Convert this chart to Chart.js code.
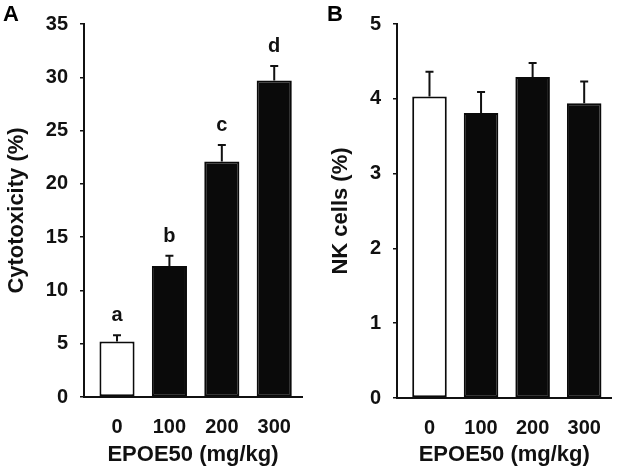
<!DOCTYPE html>
<html><head><meta charset="utf-8">
<script src="https://cdn.jsdelivr.net/npm/chart.js@4/dist/chart.umd.min.js"></script>
<style>
html,body{margin:0;padding:0;background:#fff;}
#wrap{position:relative;width:619px;height:470px;overflow:hidden;}
canvas{position:absolute;top:0;}
</style></head><body>
<div id="wrap">
<canvas id="cA" width="310" height="470" style="left:0"></canvas>
<canvas id="cB" width="309" height="470" style="left:310px"></canvas>
</div>
<script>
// ---- data ----
const doses = ['0', '100', '200', '300'];
const cytotoxicity = [5.2, 12.3, 22.1, 29.7];
const cytotoxicityErr = [0.6, 0.95, 1.55, 1.35];
const sigLetters = ['a', 'b', 'c', 'd'];
const nkCells = [4.03, 3.81, 4.29, 3.94];
const nkCellsErr = [0.33, 0.28, 0.19, 0.29];
const yTicksA = [0, 5, 10, 15, 20, 25, 30, 35];
const yTicksB = [0, 1, 2, 3, 4, 5];
const xTitle = 'EPOE50 (mg/kg)';
const yTitleA = 'Cytotoxicity (%)';
const yTitleB = 'NK cells (%)';

// ---- styles ----
const FONT = "'Liberation Sans', Arial, sans-serif";
const INK = '#111111';
const BAR_COLORS = ['#ffffff', '#0a0a0a', '#0a0a0a', '#0a0a0a'];

function makeChart(canvas, cfg) {
  const annot = {
    id: 'annot',
    afterDatasetsDraw(chart) {
      const ctx = chart.ctx;
      const y = chart.scales.y;
      const meta = chart.getDatasetMeta(0);
      ctx.save();
      ctx.strokeStyle = INK;
      ctx.lineWidth = 2;
      meta.data.forEach((el, i) => {
        const yTop = el.y;
        const yErr = y.getPixelForValue(cfg.values[i] + cfg.errs[i]);
        ctx.beginPath();
        ctx.moveTo(el.x, yTop);
        ctx.lineTo(el.x, yErr);
        ctx.moveTo(el.x - 4, yErr);
        ctx.lineTo(el.x + 4, yErr);
        ctx.stroke();
        if (cfg.letters) {
          ctx.fillStyle = INK;
          ctx.font = 'bold 20px ' + FONT;
          ctx.textAlign = 'center';
          ctx.textBaseline = 'alphabetic';
          ctx.fillText(cfg.letters[i], el.x, yErr - 14);
        }
      });
      ctx.fillStyle = '#000';
      ctx.font = 'bold 22px ' + FONT;
      ctx.textAlign = 'left';
      ctx.textBaseline = 'alphabetic';
      ctx.fillText(cfg.panel, cfg.panelX, 21);
      ctx.restore();
    }
  };
  return new Chart(canvas, {
    type: 'bar',
    data: {
      datasets: [{
        data: cfg.values.map((v, i) => ({ x: i, y: v })),
        backgroundColor: BAR_COLORS,
        borderColor: '#0a0a0a',
        borderWidth: 2,
        borderSkipped: false,
        barPercentage: 0.67,
        categoryPercentage: 1.0
      }]
    },
    options: {
      responsive: false,
      animation: false,
      devicePixelRatio: 1,
      layout: { padding: cfg.padding },
      plugins: { legend: { display: false }, tooltip: { enabled: false } },
      scales: {
        x: {
          type: 'linear',
          offset: false,
          min: -0.63,
          max: 3.53,
          afterBuildTicks: s => { s.ticks = doses.map((d, i) => ({ value: i })); },
          afterFit: s => { s.height = cfg.xAxisHeight; },
          grid: { display: false, drawTicks: false, tickLength: 0, offset: false },
          border: { display: true, color: INK, width: 2 },
          ticks: {
            callback: v => doses[v],
            font: { family: FONT, size: 20, weight: 'bold' },
            color: INK,
            padding: 18,
            autoSkip: false,
            maxRotation: 0
          },
          title: {
            display: true,
            text: xTitle,
            font: { family: FONT, size: 22, weight: 'bold' },
            color: INK,
            padding: { top: 0, bottom: 2 }
          }
        },
        y: {
          type: 'linear',
          min: 0,
          max: cfg.yTicks[cfg.yTicks.length - 1],
          afterBuildTicks: s => { s.ticks = cfg.yTicks.map(v => ({ value: v })); },
          afterFit: s => { s.width = cfg.yAxisWidth; },
          grid: { drawOnChartArea: false, drawTicks: true, tickLength: 4, color: INK, lineWidth: 1.5 },
          border: { display: true, color: INK, width: 2 },
          ticks: {
            font: { family: FONT, size: 20, weight: 'bold' },
            color: INK,
            padding: 12
          },
          title: {
            display: true,
            text: cfg.yTitle,
            font: { family: FONT, size: 22, weight: 'bold' },
            color: INK,
            padding: { top: cfg.yTitlePad, bottom: 0 }
          }
        }
      }
    },
    plugins: [annot]
  });
}

makeChart(document.getElementById('cA'), {
  values: cytotoxicity, errs: cytotoxicityErr, letters: sigLetters,
  yTicks: yTicksA, yTitle: yTitleA, yAxisWidth: 84, yTitlePad: 4,
  padding: { left: 0, right: 8, top: 20, bottom: 0 }, xAxisHeight: 73,
  panel: 'A', panelX: 3
});
makeChart(document.getElementById('cB'), {
  values: nkCells, errs: nkCellsErr, letters: null,
  yTicks: yTicksB, yTitle: yTitleB, yAxisWidth: 87, yTitlePad: 18,
  padding: { left: 0, right: 1, top: 18, bottom: 0 }, xAxisHeight: 72,
  panel: 'B', panelX: 17
});
</script>
</body></html>
